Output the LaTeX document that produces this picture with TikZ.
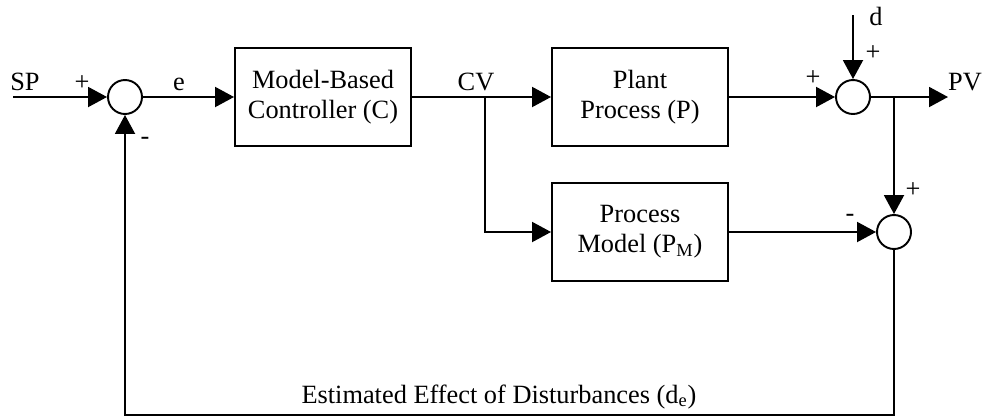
\documentclass[tikz,border=0pt]{standalone}
\usepackage{fontspec}
\setmainfont{Liberation Serif}
\usetikzlibrary{arrows.meta,positioning}

\tikzset{
	block/.style={draw,line width=1.1pt,minimum width=3.52cm,minimum height=1.96cm,align=center,inner sep=0pt},
	sumnode/.style={draw,circle,line width=1.1pt,minimum size=0.68cm,inner sep=0pt},
	sig/.style={line width=1.1pt},
	sigarrow/.style={sig,-{Triangle[length=0.38cm,width=0.4cm]}},
	lbl/.style={inner sep=0pt},
}

\begin{document}
\begin{tikzpicture}[x=0.02cm,y=-0.02cm,font=\fontsize{15}{17}\selectfont]
			\useasboundingbox (0,0) rectangle (984,416);
			%% blocks and summing points
			\node[sumnode] (s1) at (125,97) {};
			\node[block] (ctrl) at (323,97) {Model-Based\\Controller (C)};
			\node[block] (plant) at (640,97) {Plant\\Process (P)};
			\node[block] (model) at (640,232) {Process\\Model (P\textsubscript{M})};
			\node[sumnode] (s2) at (853,97) {};
			\node[sumnode] (s3) at (894,232) {};
			%% branch and end points
			\coordinate (sp) at (13,97);
			\coordinate (cv) at (485,97);
			\coordinate (din) at (853,15);
			\coordinate (pvb) at (894,97);
			\coordinate (pv) at (948,97);
			\coordinate (fb) at (894,415);
			\coordinate (fa) at (125,415);
			%% labels
			\node[lbl,anchor=base] (lsp) at (25,90) {SP};
			\node[lbl] (p1) at (82,83) {+};
			\node[lbl] (m1) at (145,141) {-};
			\node[lbl,anchor=base] (le) at (179,90) {e};
			\node[lbl,anchor=base] (lcv) at (476,90) {CV};
			\node[lbl,anchor=base] (ld) at (876,25) {d};
			\node[lbl] (p2) at (873,53) {+};
			\node[lbl] (p3) at (813,78) {+};
			\node[lbl,anchor=base] (lpv) at (965,90) {PV};
			\node[lbl] (p4) at (913,190) {+};
			\node[lbl] (m2) at (850,218) {-};
			\node[lbl,anchor=base] (lde) at (499,403) {Estimated Effect of Disturbances (d\textsubscript{e})};
			%% connections
			\draw[sigarrow] (sp) -- (s1);
			\draw[sigarrow] (s1) -- (ctrl);
			\draw[sig] (ctrl) -- (cv);
			\draw[sigarrow] (cv) -- (plant);
			\draw[sigarrow] (cv) |- (model);
			\draw[sigarrow] (plant) -- (s2);
			\draw[sigarrow] (din) -- (s2);
			\draw[sig] (s2) -- (pvb);
			\draw[sigarrow] (pvb) -- (pv);
			\draw[sigarrow] (pvb) -- (s3);
			\draw[sigarrow] (model) -- (s3);
			\draw[sigarrow] (s3) -- (fb) -- (fa) -- (s1);
\end{tikzpicture}
\end{document}
